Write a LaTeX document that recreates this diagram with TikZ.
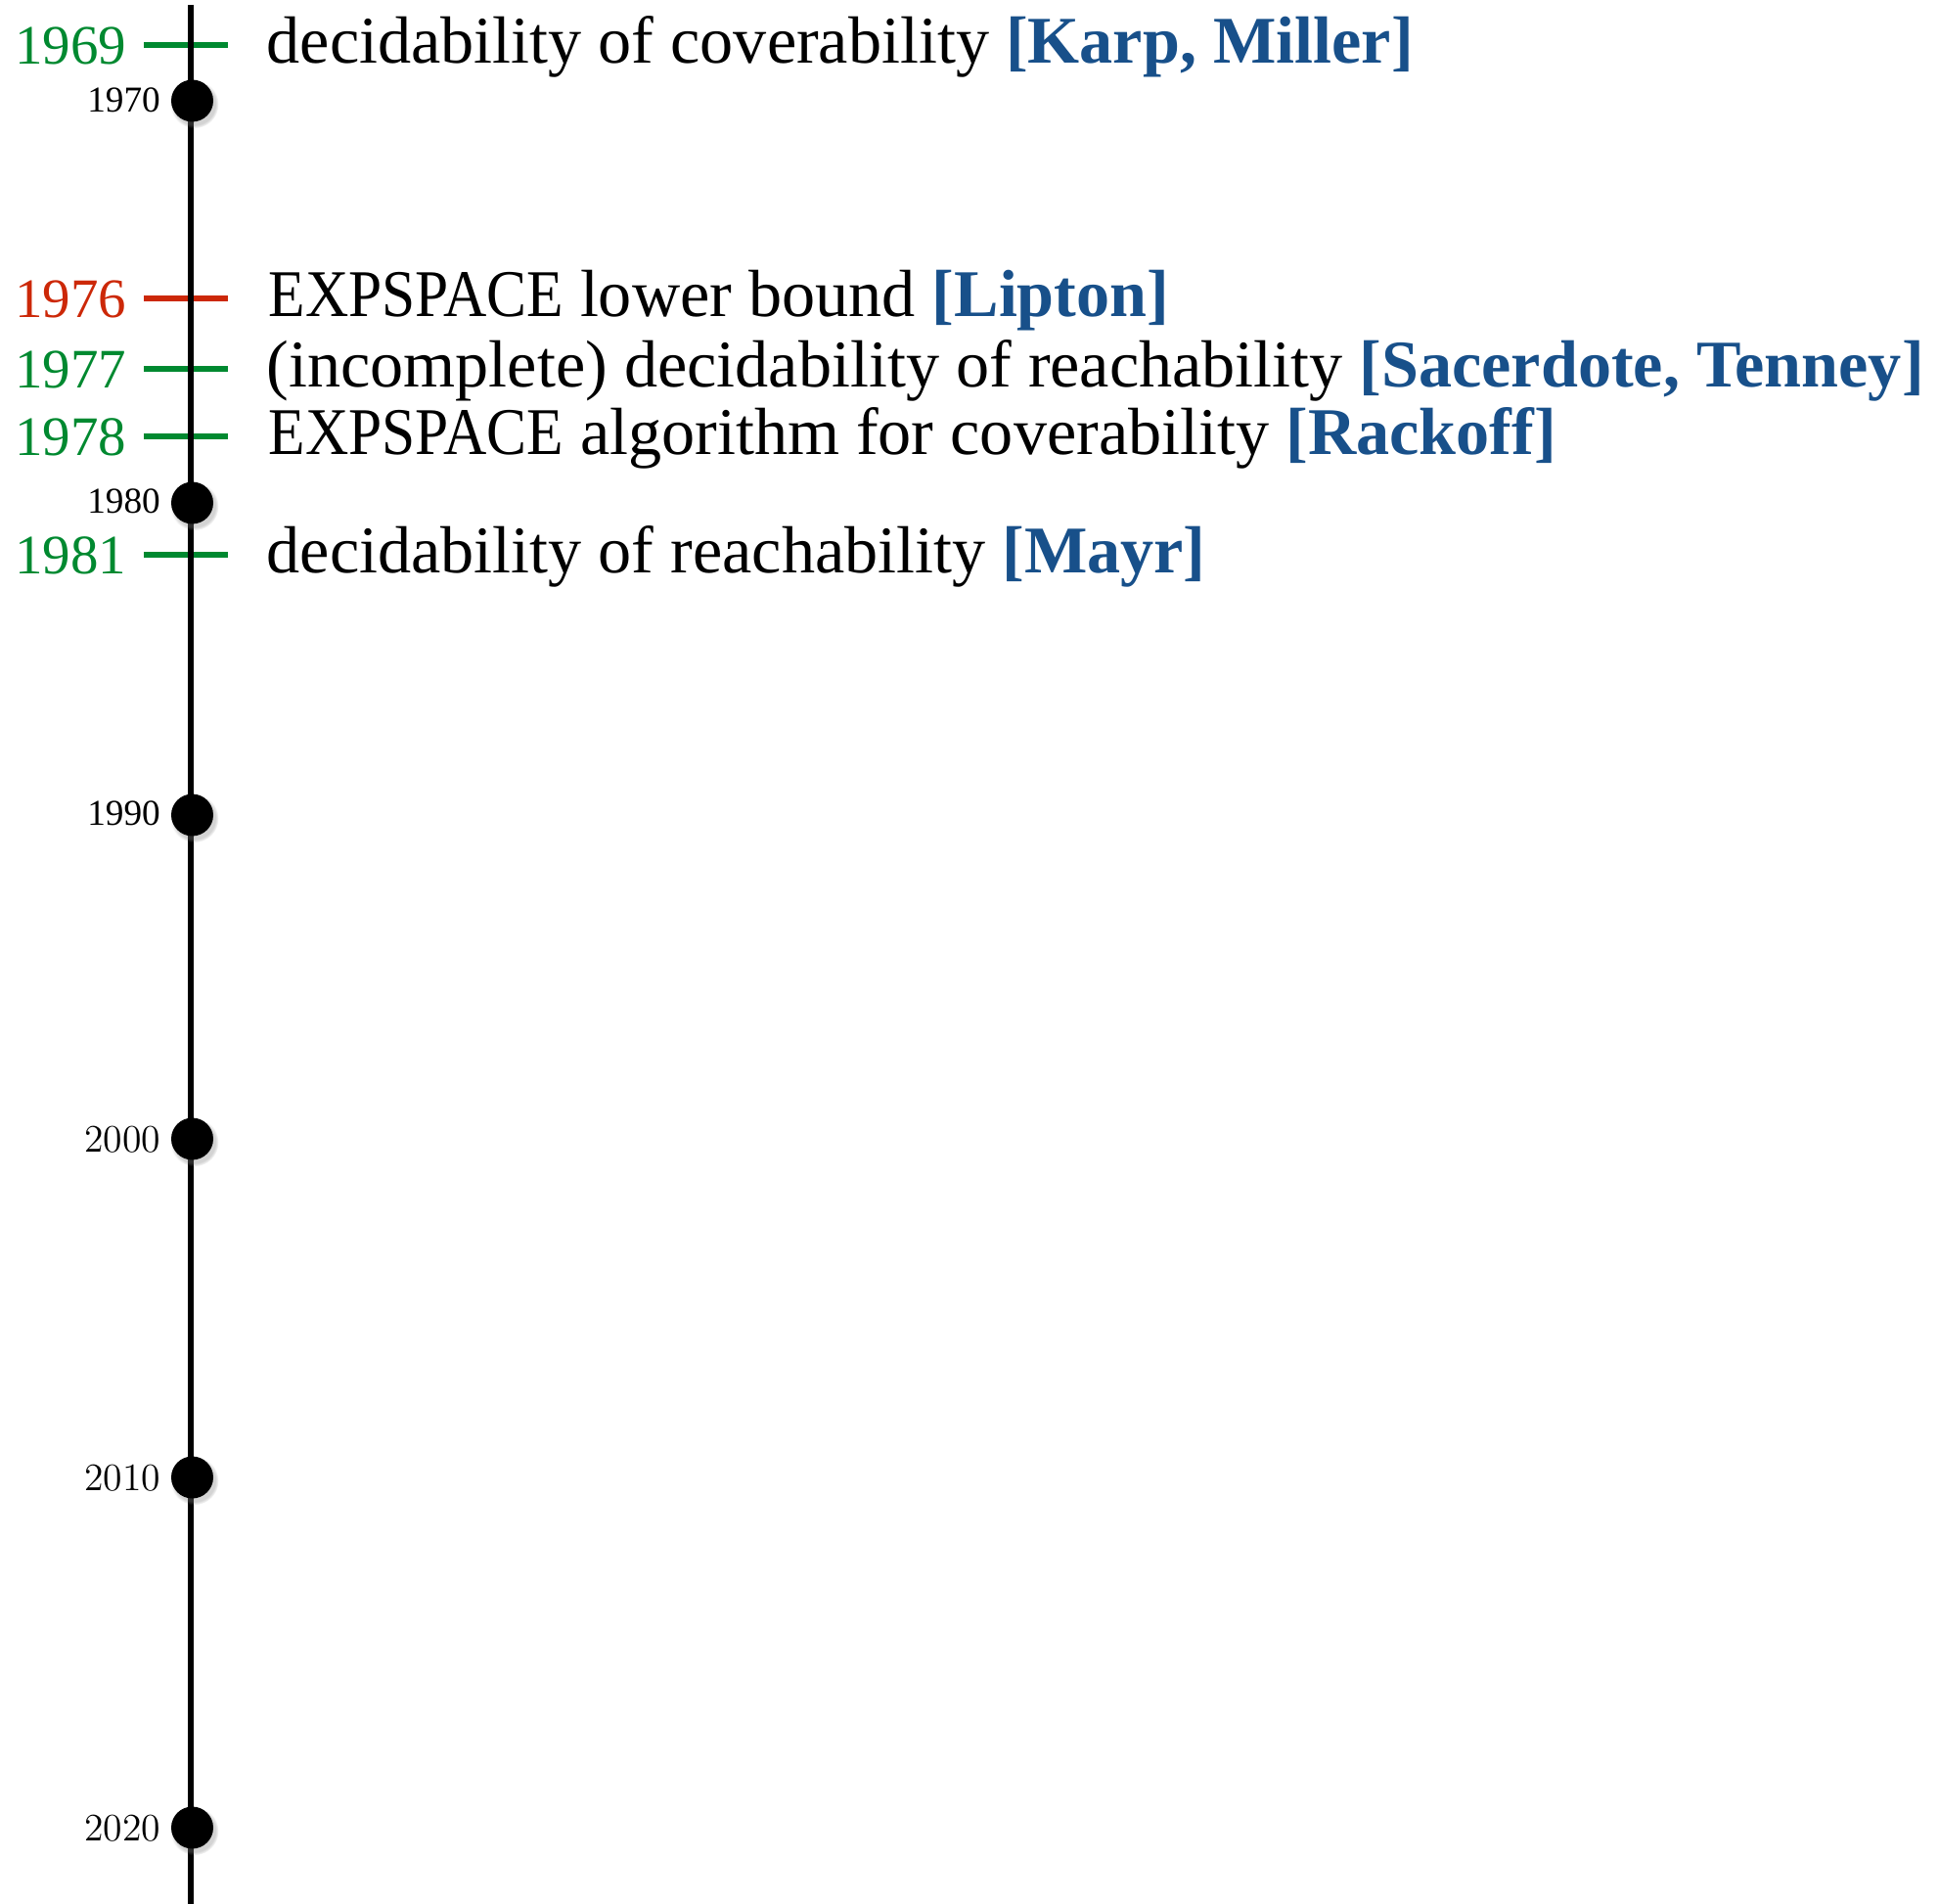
\documentclass[tikz,border=0pt]{standalone}
\usepackage{fontspec}
\usepackage{xcolor}
\usetikzlibrary{shadows}
\newfontfamily\garfont{Liberation Serif}
\definecolor{citeblue}{RGB}{24,80,138}
\definecolor{yeargreen}{RGB}{0,137,48}
\definecolor{yearred}{RGB}{204,40,8}
\newcommand{\cit}[1]{\textcolor{citeblue}{\bfseries [#1]}}
\newcommand{\expsp}{\scalebox{0.9}[1]{EXPSPACE}}

\begin{document}
\begin{tikzpicture}[x=1cm,y=1cm,
  decade/.style={circle,fill=black,inner sep=0pt,minimum size=0.43cm,
    circular drop shadow={shadow xshift=0.02cm,shadow yshift=-0.03cm,shadow scale=1.15,opacity=0.35}},
  decadelbl/.style={anchor=base east,inner sep=0pt,font=\garfont\fontsize{10.6}{12}\selectfont},
  decadelm/.style={anchor=base east,inner sep=0pt,font=\fontsize{11.3}{13}\selectfont},
  yearlbl/.style={anchor=base east,inner sep=0pt,font=\garfont\fontsize{16.2}{18}\selectfont},
  event/.style={anchor=base west,inner sep=0pt,font=\garfont\fontsize{19.4}{23}\selectfont},
  evtick/.style={line width=1.5pt}]
  \useasboundingbox (0,0) rectangle (19.82,-19.46);
  % event ticks
  \draw[evtick,yeargreen] (1.47,-0.46) -- (2.33,-0.46);
  \draw[evtick,yearred] (1.47,-3.05) -- (2.33,-3.05);
  \draw[evtick,yeargreen] (1.47,-3.77) -- (2.33,-3.77);
  \draw[evtick,yeargreen] (1.47,-4.46) -- (2.33,-4.46);
  \draw[evtick,yeargreen] (1.47,-5.67) -- (2.33,-5.67);
  % axis
  \draw[line width=1.5pt] (1.95,-0.05) -- (1.95,-19.46);
  % decades
  \node[decade] (d1970) at (1.965,-1.03) {};
  \node[decade] (d1980) at (1.965,-5.14) {};
  \node[decade] (d1990) at (1.965,-8.33) {};
  \node[decade] (d2000) at (1.965,-11.64) {};
  \node[decade] (d2010) at (1.965,-15.10) {};
  \node[decade] (d2020) at (1.965,-18.68) {};
  \node[decadelbl] (l1970) at (1.645,-1.15) {1970};
  \node[decadelbl] (l1980) at (1.645,-5.25) {1980};
  \node[decadelbl] (l1990) at (1.645,-8.44) {1990};
  \node[decadelm] (l2000) at (1.65,-11.775) {2000};
  \node[decadelm] (l2010) at (1.65,-15.235) {2010};
  \node[decadelm] (l2020) at (1.65,-18.815) {2020};
  % years
  \node[yearlbl,yeargreen] (y1969) at (1.30,-0.66) {1969};
  \node[yearlbl,yearred] (y1976) at (1.30,-3.25) {1976};
  \node[yearlbl,yeargreen] (y1977) at (1.30,-3.97) {1977};
  \node[yearlbl,yeargreen] (y1978) at (1.30,-4.66) {1978};
  \node[yearlbl,yeargreen] (y1981) at (1.30,-5.87) {1981};
  % results
  \node[event] (e1969) at (2.72,-0.65) {decidability of coverability \cit{Karp, Miller}};
  \node[event] (e1976) at (2.74,-3.24) {\expsp{} lower bound \cit{Lipton}};
  \node[event] (e1977) at (2.72,-3.96) {(incomplete) decidability of reachability \cit{Sacerdote, Tenney}};
  \node[event] (e1978) at (2.74,-4.65) {\expsp{} algorithm for coverability \cit{Rackoff}};
  \node[event] (e1981) at (2.72,-5.86) {decidability of reachability \cit{Mayr}};
\end{tikzpicture}
\end{document}
